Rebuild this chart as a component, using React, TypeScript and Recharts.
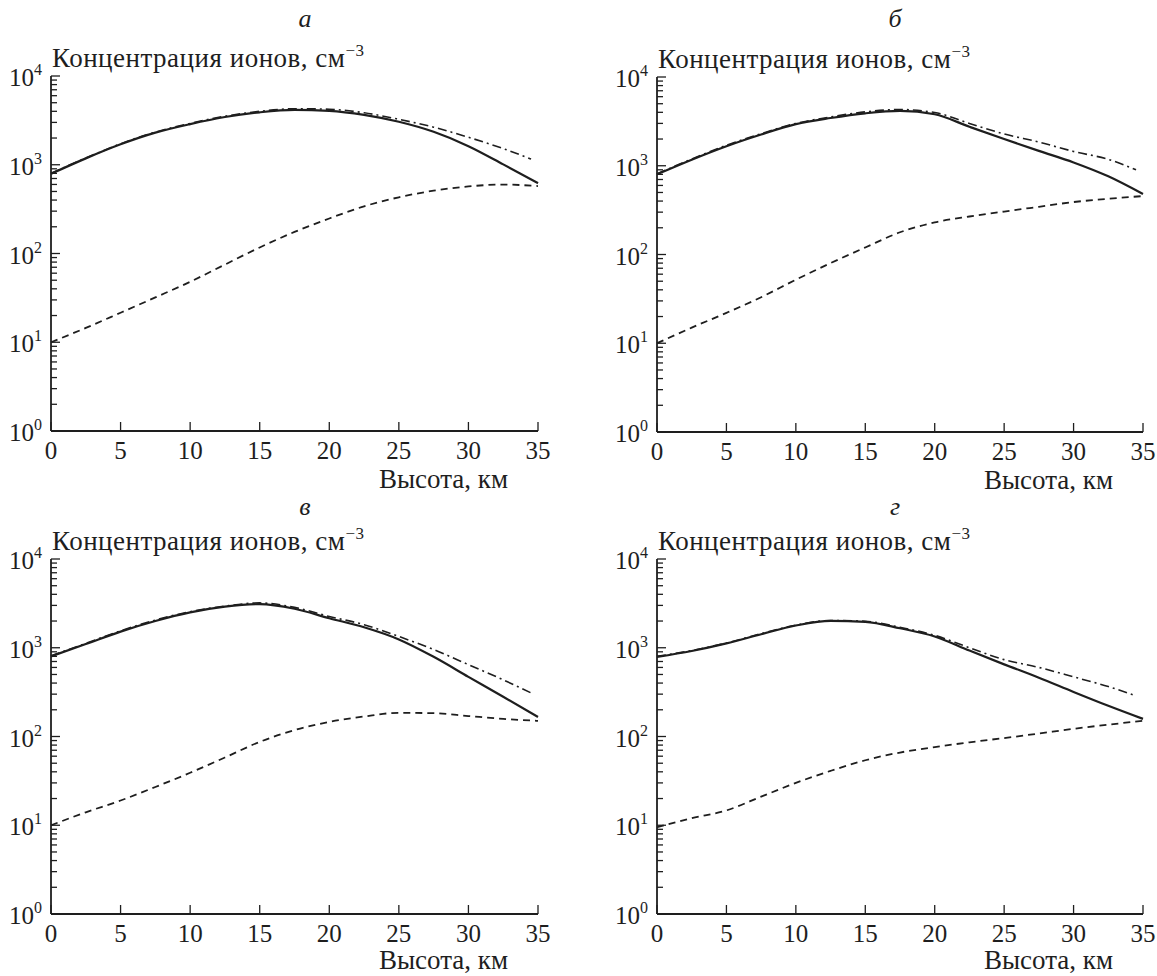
import { LineChart, Line, XAxis, YAxis, Label } from 'recharts';

const heightKm = [0, 2.5, 5, 7.5, 10, 12.5, 15, 17.5, 20, 22.5, 25, 27.5, 30, 32.5, 35];
// the dash-dot curve stops a little short of 35 km
const dashDotKm = [0, 2.5, 5, 7.5, 10, 12.5, 15, 17.5, 20, 22.5, 25, 27.5, 30, 32.5, 34.5];

const xTicks = [0, 5, 10, 15, 20, 25, 30, 35];
const yDecades = [1, 10, 100, 1000, 10000];
const yMinorSteps = [1, 2, 3, 4, 5, 6, 7, 8, 9];

const panelTitles = ['а', 'б', 'в', 'г'];
const yTitle = 'Концентрация ионов, см';
const yTitleUnitPower = '−3';
const xTitle = 'Высота, км';

// panel а
const aSolid = [790, 1180, 1700, 2300, 2870, 3450, 3900, 4150, 4050, 3650, 3050, 2350, 1620, 1010, 620];
const aDashDot = [800, 1190, 1720, 2330, 2920, 3520, 4000, 4280, 4220, 3850, 3250, 2650, 2040, 1520, 1160];
const aDashed = [10, 14.5, 21.5, 32, 48, 75, 117, 175, 248, 340, 430, 510, 570, 598, 575];

// panel б
const bSolid = [800, 1170, 1660, 2250, 2940, 3450, 3900, 4150, 3800, 2750, 2000, 1470, 1090, 760, 480];
const bDashDot = [810, 1190, 1700, 2300, 3000, 3550, 4050, 4300, 3980, 3000, 2280, 1850, 1450, 1180, 900];
const bDashed = [10, 15, 22, 33, 52, 80, 120, 178, 230, 268, 305, 345, 390, 425, 455];

// panel в
const vSolid = [800, 1100, 1520, 2000, 2500, 2900, 3100, 2750, 2150, 1700, 1240, 790, 470, 280, 166];
const vDashDot = [810, 1120, 1550, 2050, 2550, 2950, 3200, 2850, 2250, 1820, 1340, 955, 645, 435, 310];
const vDashed = [10, 14, 19, 27, 39, 58, 87, 118, 146, 168, 185, 183, 170, 158, 150];

// panel г
const gSolid = [790, 920, 1120, 1420, 1780, 2010, 1960, 1660, 1340, 930, 650, 460, 318, 222, 158];
const gDashDot = [800, 930, 1130, 1440, 1800, 2030, 1990, 1700, 1380, 1000, 735, 600, 470, 365, 287];
const gDashed = [9.5, 12, 14.7, 21, 30, 41, 54, 66, 76, 86, 96, 108, 122, 136, 150];

const yTicks = [
  ...yDecades.slice(0, -1).flatMap((d) => yMinorSteps.map((k) => k * d)),
  yDecades[yDecades.length - 1],
];

const INK = '#1e1e1e';
const FONT = "'Liberation Serif', 'Times New Roman', serif";

const toRows = (xs: number[], ys: number[]) => xs.map((x, i) => ({ h: x, v: ys[i] }));

function YTick(props: any) {
  const { x, y, payload } = props;
  const lg = Math.log10(payload.value);
  const exp = Math.round(lg);
  const major = Math.abs(lg - exp) < 1e-6;
  return (
    <g>
      <line x1={x} x2={x + (major ? 9 : 6)} y1={y} y2={y} stroke={INK} strokeWidth={1.3} />
      {major && (
        <text x={x - 9} y={y + 10} textAnchor="end" fontFamily={FONT} fontSize={25} fill={INK}>
          10
          <tspan dy={-11} fontSize={16}>
            {exp}
          </tspan>
        </text>
      )}
    </g>
  );
}

function XTick(props: any) {
  const { x, y, payload } = props;
  return (
    <g>
      <line x1={x} x2={x} y1={y} y2={y - 9} stroke={INK} strokeWidth={1.3} />
      <text x={x} y={y + 28} textAnchor="middle" fontFamily={FONT} fontSize={25} fill={INK}>
        {payload.value}
      </text>
    </g>
  );
}

interface PanelProps {
  left: number;
  top: number;
  width: number;
  height: number;
  yAxisWidth: number;
  marginTop: number;
  marginRight: number;
  title: string;
  titleDx: number;
  titleDy: number;
  xTitleDy: number;
  solid: number[];
  dashDot: number[];
  dashed: number[];
}

function Panel(p: PanelProps) {
  const plotLeft = p.yAxisWidth;
  const plotRight = p.width - p.marginRight;
  const plotTop = p.marginTop;
  const xAxisHeight = p.height - plotTop - 355;
  const plotBottom = plotTop + 355;

  return (
    <div style={{ position: 'absolute', left: p.left, top: p.top }}>
      <LineChart
        width={p.width}
        height={p.height}
        margin={{ top: p.marginTop, right: p.marginRight, bottom: 0, left: 0 }}
      >
        <XAxis
          dataKey="h"
          type="number"
          domain={[0, 35]}
          ticks={xTicks}
          interval={0}
          height={xAxisHeight}
          tickSize={0}
          tickMargin={0}
          tickLine={false}
          tick={<XTick />}
          axisLine={{ stroke: INK, strokeWidth: 1.8 }}
        >
          <Label
            content={() => (
              <text
                x={plotRight - 30}
                y={plotBottom + p.xTitleDy}
                textAnchor="end"
                fontFamily={FONT}
                fontSize={27}
                fill={INK}
              >
                {xTitle}
              </text>
            )}
          />
        </XAxis>
        <YAxis
          dataKey="v"
          type="number"
          scale="log"
          domain={[1, 10000]}
          allowDataOverflow
          ticks={yTicks}
          interval={0}
          width={p.yAxisWidth}
          tickSize={0}
          tickMargin={0}
          tickLine={false}
          tick={<YTick />}
          axisLine={{ stroke: INK, strokeWidth: 1.8 }}
        >
          <Label
            content={() => (
              <g>
                <text
                  x={plotLeft + p.titleDx}
                  y={plotTop - p.titleDy}
                  textAnchor="middle"
                  fontFamily={FONT}
                  fontStyle="italic"
                  fontSize={26}
                  fill={INK}
                >
                  {p.title}
                </text>
                <text
                  x={plotLeft + 1}
                  y={plotTop - 9}
                  fontFamily={FONT}
                  fontSize={27}
                  letterSpacing={0.5}
                  fill={INK}
                >
                  {yTitle}
                  <tspan dy={-11} fontSize={17}>
                    {yTitleUnitPower}
                  </tspan>
                </text>
              </g>
            )}
          />
        </YAxis>
        <Line
          data={toRows(heightKm, p.dashed)}
          dataKey="v"
          type="monotone"
          stroke={INK}
          strokeWidth={1.8}
          strokeDasharray="7 5"
          dot={false}
          isAnimationActive={false}
        />
        <Line
          data={toRows(dashDotKm, p.dashDot)}
          dataKey="v"
          type="monotone"
          stroke={INK}
          strokeWidth={1.6}
          strokeDasharray="9 4 2 4"
          dot={false}
          isAnimationActive={false}
        />
        <Line
          data={toRows(heightKm, p.solid)}
          dataKey="v"
          type="monotone"
          stroke={INK}
          strokeWidth={2.2}
          dot={false}
          isAnimationActive={false}
        />
      </LineChart>
    </div>
  );
}

export default function App() {
  return (
    <div style={{ position: 'absolute', left: 0, top: 0, width: 1157, height: 976, background: '#fff' }}>
      <Panel
        left={0}
        top={0}
        width={578}
        height={500}
        yAxisWidth={51}
        marginTop={76}
        marginRight={40}
        title={panelTitles[0]}
        titleDx={254}
        titleDy={49}
        xTitleDy={57}
        solid={aSolid}
        dashDot={aDashDot}
        dashed={aDashed}
      />
      <Panel
        left={579}
        top={0}
        width={578}
        height={500}
        yAxisWidth={78}
        marginTop={77}
        marginRight={14}
        title={panelTitles[1]}
        titleDx={238}
        titleDy={50}
        xTitleDy={57}
        solid={bSolid}
        dashDot={bDashDot}
        dashed={bDashed}
      />
      <Panel
        left={0}
        top={488}
        width={578}
        height={488}
        yAxisWidth={51}
        marginTop={71}
        marginRight={40}
        title={panelTitles[2]}
        titleDx={254}
        titleDy={44}
        xTitleDy={55}
        solid={vSolid}
        dashDot={vDashDot}
        dashed={vDashed}
      />
      <Panel
        left={579}
        top={488}
        width={578}
        height={488}
        yAxisWidth={78}
        marginTop={71}
        marginRight={14}
        title={panelTitles[3]}
        titleDx={238}
        titleDy={44}
        xTitleDy={55}
        solid={gSolid}
        dashDot={gDashDot}
        dashed={gDashed}
      />
    </div>
  );
}
